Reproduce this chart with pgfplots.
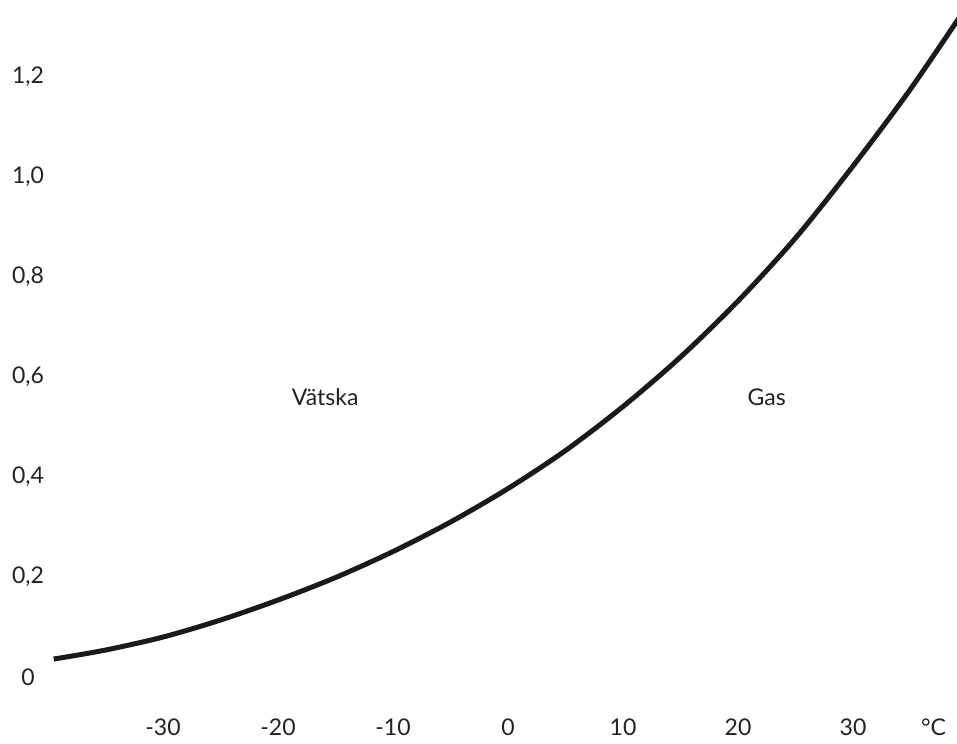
\documentclass[border=0pt]{standalone}
\usepackage{fontspec}
\setmainfont{Lato}
\usepackage{pgfplots}
\pgfplotsset{compat=1.18}
\definecolor{curve}{HTML}{1A1A1A}
\definecolor{txt}{HTML}{222222}
\begin{document}
\fontsize{11.5}{14}\selectfont
\begin{tikzpicture}
\begin{axis}[
  scale only axis,
  x=5.75pt, y=250pt,
  xmin=-44.17, xmax=39.04,
  ymin=-0.126, ymax=1.354,
  axis line style={draw=none},
  major tick length=0pt,
  tick style={draw=none},
  xtick={-30,-20,-10,0,10,20,30},
  xticklabels={-30,-20,-10,0,10,20,30},
  ytick={0,0.2,0.4,0.6,0.8,1.0,1.2},
  yticklabels={0,{0,2},{0,4},{0,6},{0,8},{1,0},{1,2}},
  xticklabel style={anchor=center, yshift=6.5pt, text=txt},
  yticklabel style={anchor=center, xshift=14pt, text=txt},
  clip=true,
]
\addplot[curve, line width=2.5pt, smooth] coordinates {
  (-39.5,0.036) (-35,0.054) (-30,0.080) (-25,0.114) (-20,0.154)
  (-15,0.199) (-10,0.251) (-5,0.310) (0,0.377) (5,0.453)
  (10,0.541) (15,0.640) (20,0.752) (25,0.878) (30,1.022)
  (35,1.176) (40,1.345)
};
\node[text=txt] at (axis cs:-15.9,0.56) {Vätska};
\node[text=txt] at (axis cs:22.5,0.56) {Gas};
\node[text=txt] at (axis cs:37.0,-0.1) {°C};
\end{axis}
\end{tikzpicture}
\end{document}
